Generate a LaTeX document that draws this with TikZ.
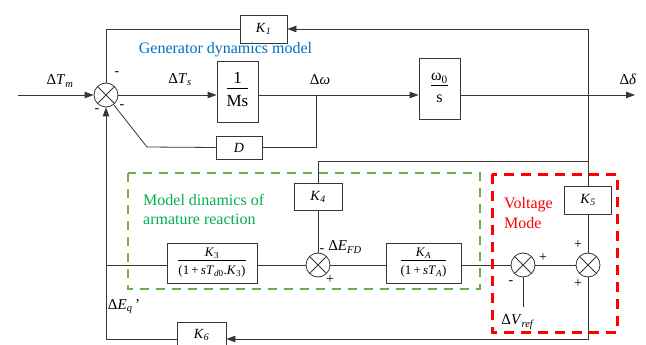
\documentclass[tikz,border=0pt]{standalone}
\usepackage{fontspec}
\setmainfont{Liberation Serif}
\usetikzlibrary{arrows.meta}
\definecolor{lineC}{RGB}{55,55,55}
\definecolor{blueT}{RGB}{0,112,192}
\definecolor{greenT}{RGB}{0,176,80}
\definecolor{greenD}{RGB}{112,173,71}
\definecolor{redD}{RGB}{255,0,0}
\newcommand\myfrac[2]{\begin{tabular}{@{}c@{}}#1\\[0pt]\hline\rule{0pt}{1.05em}#2\end{tabular}}
\newcommand\fs[1]{\fontsize{#1}{#1}\selectfont}
\setlength\arrayrulewidth{0.7pt}
\begin{document}
\begin{tikzpicture}[x=1pt,y=-1pt,
  line/.style={draw=lineC, line width=0.8pt},
  arr/.style={line, -{Triangle[length=9pt,width=6.5pt]}},
  blk/.style={draw=lineC, line width=0.8pt, fill=white, inner sep=0pt},
  sumc/.style={circle, draw=lineC, line width=0.8pt, fill=white, minimum size=24pt, inner sep=0pt,
    path picture={\draw[lineC, line width=0.8pt] (path picture bounding box.north west) -- (path picture bounding box.south east)
      (path picture bounding box.north east) -- (path picture bounding box.south west);}},
  lbl/.style={inner sep=0pt, font=\fs{15}},
  sgn/.style={inner sep=0pt, font=\fs{14}},
  klbl/.style={font=\fs{14}}]
\useasboundingbox (0,0) rectangle (646,345);
% summers
\node[sumc] (S1) at (106,95) {};
\node[sumc] (S2) at (318,265) {};
\node[sumc] (S3) at (523,265) {};
\node[sumc] (S4) at (588,265) {};
% blocks
\node[blk, minimum width=41pt, minimum height=61pt, font=\fs{17}] (Ms) at (237.5,91.5) {\myfrac{1}{Ms}};
\node[blk, minimum width=41pt, minimum height=61pt, font=\fs{16}] (W) at (439.5,88.5) {\myfrac{ω\textsubscript{0}}{s}};
\node[blk, minimum width=47pt, minimum height=28pt, klbl] (K1) at (263.5,29) {\textit{K}\textsubscript{\textit{1}}};
\node[blk, minimum width=46pt, minimum height=23pt, klbl] (D) at (239,147.5) {\textit{D}};
\node[blk, minimum width=48pt, minimum height=27pt, klbl] (K4) at (318,196.5) {\textit{K}\textsubscript{\textit{4}}};
\node[blk, minimum width=47pt, minimum height=28pt, klbl] (K5) at (588,200) {\textit{K}\textsubscript{\textit{5}}};
\node[blk, minimum width=49pt, minimum height=26pt, klbl] (K6) at (201.5,335) {\textit{K}\textsubscript{\textit{6}}};
\node[blk, minimum width=90pt, minimum height=40pt, font=\fs{13}] (K3) at (212,263)
  {\myfrac{\textit{K}\textsubscript{3}}{(1\,+\,\textit{sT}\textsubscript{\textit{d}0}.\textit{K}\textsubscript{3})}};
\node[blk, minimum width=75pt, minimum height=40pt, font=\fs{13}] (KA) at (423.5,263)
  {\myfrac{\textit{K}\textsubscript{\textit{A}}}{(1\,+\,\textit{sT}\textsubscript{\textit{A}})}};
% coordinates
\coordinate (in) at (18,95);
\coordinate (out) at (635,95);
\coordinate (TR) at (588,29);
\coordinate (J1) at (588,161);
\coordinate (Dj) at (316,95);
\coordinate (Dc) at (147,147);
\coordinate (BR) at (588,339);
\coordinate (BL) at (106,339);
\coordinate (L3) at (106,265);
\coordinate (vref) at (523,307);
% connectors
\draw[arr] (in) -- (S1);
\draw[arr] (S1) -- (S1 -| Ms.west);
\draw[arr] (Ms.east |- S1) -- (W.west |- S1);
\draw[arr] (W.east |- S1) -- (out);
\draw[arr] (K5.north) -- (TR) -- (K1.east);
\draw[line] (K1.west) -- (K1.west -| S1) -- (S1);
\draw[line] (Dj) -- (Dj |- D) -- (D.east);
\draw[line] (D.west) -- (Dc) -- (S1);
\draw[line] (K4.north) -- (K4.north |- J1) -- (J1);
\draw[line] (K4) -- (S2);
\draw[line] (K5) -- (S4);
\draw[arr] (S4) -- (BR) -- (K6.east |- BR);
\draw[arr] (K6.west |- BL) -- (BL) -- (S1);
\draw[line] (L3) -- (K3.west |- L3);
\draw[line] (K3.east |- S2) -- (S2);
\draw[line] (S2) -- (KA.west |- S2);
\draw[line] (KA.east |- S3) -- (S3);
\draw[line] (S3) -- (S4);
\draw[line] (S3) -- (vref);
% labels
\node[lbl] (lTm) at (60,81) {Δ\textit{T}\textsubscript{\textit{m}}};
\node[lbl] (lTs) at (180,80) {Δ\textit{T}\textsubscript{\textit{s}}};
\node[lbl] (lw) at (320,80) {Δ\textit{ω}};
\node[lbl] (ld) at (628,79) {Δ\textit{δ}};
\node[lbl] (lEFD) at (345,247) {Δ\textit{E}\textsubscript{\textit{FD}}};
\node[lbl] (lEq) at (124,307) {Δ\textit{E}\textsubscript{\textit{q}}\,’};
\node[lbl] (lVr) at (518,322) {Δ\textit{V}\textsubscript{\textit{ref}}};
% signs
\node[sgn] (s1) at (117,74) {-};
\node[sgn] (s2) at (122,107) {-};
\node[sgn] (s3) at (97,111) {-};
\node[sgn] (s4) at (322,251) {-};
\node[sgn] (s5) at (330,280) {+};
\node[sgn] (s6) at (543,258) {+};
\node[sgn] (s7) at (511,283) {-};
\node[sgn] (s8) at (578,245) {+};
\node[sgn] (s9) at (578,284) {+};
% titles
\node[inner sep=0pt, text=blueT, font=\fs{16}] (tGen) at (225.5,50) {Generator dynamics model};
\node[inner sep=0pt, anchor=west, align=left, text=greenT, font=\fontsize{16}{19}\selectfont] (tMod) at (143,209.5) {Model dinamics of\\armature reaction};
\node[inner sep=0pt, anchor=west, align=left, text=redD, font=\fontsize{16}{20}\selectfont] (tVol) at (504,213) {Voltage\\Mode};
% dashed regions
\draw[greenD, line width=2.5pt, dash pattern=on 9pt off 7pt] (128,173) rectangle (480,289);
\draw[redD, line width=3pt, dash pattern=on 10pt off 7pt] (492,174) rectangle (617,332);
\end{tikzpicture}
\end{document}
